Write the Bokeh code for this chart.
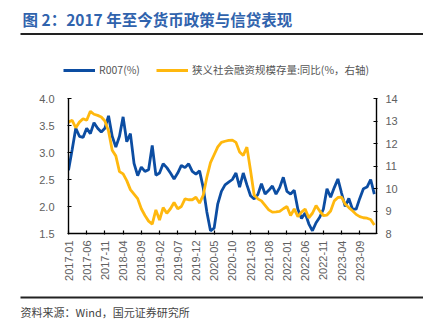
from bokeh.plotting import figure
from bokeh.models import (Range1d, LinearAxis, FixedTicker, Legend, LegendItem,
                          NumeralTickFormatter, ColumnDataSource, Plot)
from bokeh.layouts import column
from bokeh.core.properties import value
from bokeh.embed import file_html
from bokeh.resources import INLINE
import math

# ---------------- data ----------------
months = [f"{y}-{m:02d}" for y in range(2017, 2024) for m in range(1, 13)] + ["2024-01"]

r007 = [2.67, 3.05, 3.45, 3.30, 3.28, 3.45, 3.35, 3.55, 3.45, 3.38,
        3.45, 3.68, 3.30, 3.10, 3.30, 3.66, 3.20, 3.35, 2.80, 2.57,
        2.73, 2.65, 2.68, 3.13, 2.58, 2.62, 2.79, 2.72, 2.62, 2.51,
        2.62, 2.76, 2.72, 2.79, 2.65, 2.60, 2.66, 2.35, 1.90, 1.55,
        1.60, 2.05, 2.28, 2.40, 2.45, 2.50, 2.62, 2.36, 2.62, 2.40,
        2.20, 2.14, 2.22, 2.42, 2.23, 2.30, 2.38, 2.23, 2.35, 2.54,
        2.28, 2.23, 2.30, 1.95, 1.78, 1.88, 1.68, 1.55, 1.70, 1.80,
        1.95, 2.33, 2.17, 2.35, 2.51, 2.25, 2.00, 2.15, 1.95, 1.95,
        2.15, 2.33, 2.36, 2.50, 2.23]

tsf_yoy = [12.95, 13.03, 12.70, 12.95, 13.10, 13.03, 13.43, 13.30, 13.25, 13.18,
           13.00, 12.55, 11.70, 11.45, 10.75, 10.65, 10.35, 9.95, 9.75, 9.55,
           9.10, 8.80, 8.55, 8.42, 9.05, 8.60, 9.15, 8.90, 9.10, 9.38,
           9.10, 9.20, 9.54, 9.50, 9.50, 9.61, 9.35, 9.70, 10.50, 11.15,
           11.50, 11.85, 12.05, 12.10, 12.14, 12.15, 12.05, 11.62, 11.47, 11.84,
           10.80, 9.70, 9.54, 9.45, 9.25, 9.05, 8.95, 8.96, 8.98, 9.10,
           9.20, 8.80, 9.09, 8.75, 8.95, 9.09, 8.70, 8.90, 9.24, 9.00,
           8.80, 8.82, 9.00, 9.45, 9.60, 9.62, 9.31, 9.15, 9.01, 8.85,
           8.75, 8.70, 8.68, 8.62, 8.38]

tick_labels = ["2017-01", "2017-06", "2017-11", "2018-04", "2018-09", "2019-02",
               "2019-07", "2019-12", "2020-05", "2020-10", "2021-03", "2021-08",
               "2022-01", "2022-06", "2022-11", "2023-04", "2023-09"]
left_ticks = [1.5, 2.0, 2.5, 3.0, 3.5, 4.0]
right_ticks = [8, 9, 10, 11, 12, 13, 14]

title_text = "图 2：2017 年至今货币政策与信贷表现"
source_text = "资料来源：Wind，国元证券研究所"
name_r007 = "R007(%)"
name_tsf = "狭义社会融资规模存量:同比(%，右轴)"

# ---------------- styles ----------------
BLUE = "#0c4da2"
GOLD = "#ffb80e"
LATIN = "Liberation Sans"
CJK = "Noto Sans CJK SC"
W = 423
TOP_H, MAIN_H, BOT_H = 90, 195, 40
LW = 2.8
HAS_FRAME_ALIGN = "frame_align" in Plot.properties()


def deco_figure(h):
    f = figure(width=W, height=h, output_backend="svg", toolbar_location=None,
               x_range=Range1d(0, W), y_range=Range1d(0, h),
               x_axis_type=None, y_axis_type=None, min_border=0)
    f.outline_line_color = None
    f.grid.visible = False
    if HAS_FRAME_ALIGN:
        f.frame_align = False
    return f


# ---------------- header: title, rule, legend ----------------
top = deco_figure(TOP_H)
top.text(x=[22], y=[TOP_H - 18], text=[title_text], text_font=value(CJK),
         text_font_style="bold", text_font_size=value("15.5px"),
         text_color="#3063ad", text_baseline="middle", text_align="left")
top.quad(left=[20], right=[W], top=[TOP_H - 32.5], bottom=[TOP_H - 34.5],
         fill_color="#222222", line_color=None)
d1 = top.line(x=[-50, -40], y=[20, 20], line_color=BLUE, line_width=LW)
d2 = top.line(x=[-50, -40], y=[20, 20], line_color=GOLD, line_width=LW)
leg = Legend(items=[LegendItem(label=name_r007, renderers=[d1]),
                    LegendItem(label=name_tsf, renderers=[d2])],
             orientation="horizontal", location=(63, TOP_H - 77),
             padding=0, margin=0, spacing=16, glyph_width=32, glyph_height=14,
             label_height=14, label_standoff=4, border_line_color=None,
             background_fill_alpha=0, label_text_font=CJK,
             label_text_font_size="10.5px", label_text_color="#555555",
             label_text_baseline="middle")
top.add_layout(leg, "center")

# ---------------- main chart ----------------
idx = list(range(len(months)))
src = ColumnDataSource(dict(x=idx, r007=r007, tsf=tsf_yoy, month=months))

p = figure(width=W, height=MAIN_H, output_backend="svg", toolbar_location=None,
           x_range=Range1d(0, 84.6), y_range=Range1d(1.5, 4.0),
           min_border_left=68, min_border_right=47, min_border_top=8,
           min_border_bottom=52)
p.extra_y_ranges = {"right": Range1d(8, 14)}
p.outline_line_color = None
p.grid.visible = False
if HAS_FRAME_ALIGN:
    p.frame_align = False

p.line("x", "r007", source=src, color=BLUE, line_width=LW)
p.line("x", "tsf", source=src, color=GOLD, line_width=LW, y_range_name="right")

tick_pos = [months.index(t) for t in tick_labels]
xa = p.xaxis[0]
xa.ticker = FixedTicker(ticks=tick_pos)
xa.major_label_overrides = {i: t for i, t in zip(tick_pos, tick_labels)}
xa.major_label_orientation = math.pi / 2

ya = p.yaxis[0]
ya.ticker = FixedTicker(ticks=left_ticks)
ya.formatter = NumeralTickFormatter(format="0.0")

ra = LinearAxis(y_range_name="right", ticker=FixedTicker(ticks=right_ticks))
p.add_layout(ra, "right")

for ax in (xa, ya, ra):
    ax.axis_line_color = "#000000"
    ax.axis_line_width = 1.4
    ax.major_tick_line_color = "#000000"
    ax.major_tick_line_width = 1.2
    ax.major_tick_in = 3
    ax.major_tick_out = 1
    ax.minor_tick_line_color = None
    ax.major_label_text_font = LATIN
    ax.major_label_text_color = "#606060"
    ax.major_label_text_font_size = "11px"
xa.major_label_standoff = 6
ya.major_label_standoff = 13
ra.major_label_standoff = 8

# ---------------- footer: rule and source ----------------
bot = deco_figure(BOT_H)
bot.quad(left=[20], right=[W], top=[BOT_H - 11], bottom=[BOT_H - 13],
         fill_color="#222222", line_color=None)
bot.text(x=[20], y=[BOT_H - 26], text=[source_text], text_font=value(CJK),
         text_font_size=value("11px"), text_color="#444444",
         text_baseline="middle", text_align="left")

layout = column(top, p, bot, spacing=0)
open("out.html", "w").write(file_html(layout, INLINE))
